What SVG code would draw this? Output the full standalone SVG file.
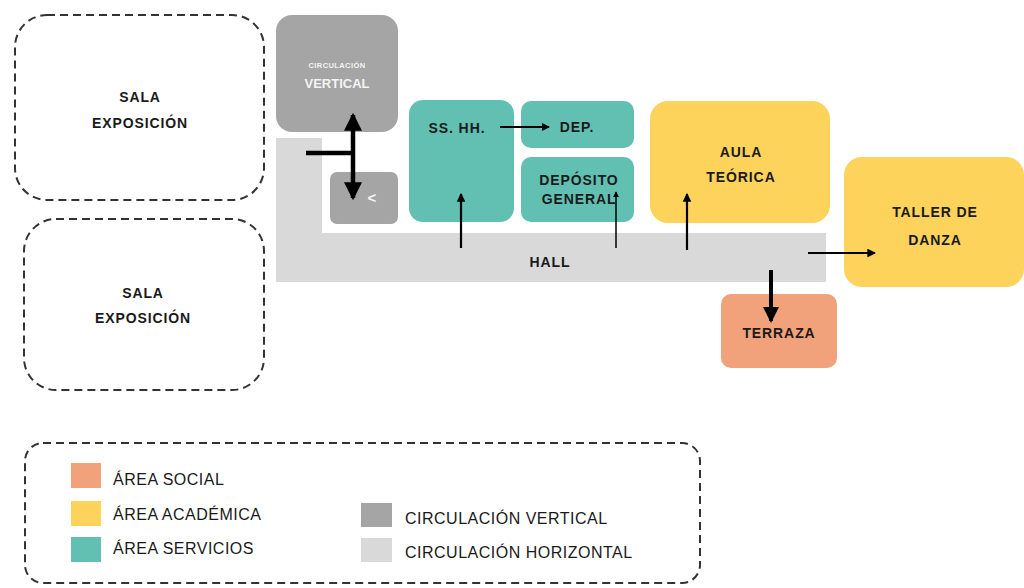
<svg xmlns="http://www.w3.org/2000/svg" width="1024" height="588" viewBox="0 0 1024 588">
<style>
.lbl{font-family:"Liberation Sans",Arial,sans-serif;font-weight:bold;font-size:14px;letter-spacing:0.9px;fill:#1a1a1a;text-anchor:middle}
.wlbl{font-family:"Liberation Sans",Arial,sans-serif;font-weight:bold;fill:#f4f4f4;text-anchor:middle}
.leg{font-family:"Liberation Sans",Arial,sans-serif;font-size:16px;letter-spacing:0.5px;fill:#1a1a1a}
.dash{fill:#ffffff;stroke:#333333;stroke-width:2;stroke-dasharray:8,5}
.teal{fill:#62c0b3}
.yel{fill:#fdd35c}
.sal{fill:#f2a27a}
.dg{fill:#a5a5a5}
.lg{fill:#d9d9d9}
.con{stroke:#000000;fill:none}
</style>
<defs>
<marker id="ah" markerWidth="4" markerHeight="4" refX="3.5" refY="2" orient="auto" markerUnits="strokeWidth"><path d="M0,0 L4,2 L0,4 z" fill="#000"/></marker>
</defs>
<rect width="1024" height="588" fill="#ffffff"/>

<g id="sala1"><rect class="dash" x="15" y="15" width="249" height="185" rx="32"/><text class="lbl" x="140" y="102">SALA</text><text class="lbl" x="140" y="128">EXPOSICIÓN</text></g>
<g id="sala2"><rect class="dash" x="24" y="219" width="240" height="171" rx="32"/><text class="lbl" x="143" y="298">SALA</text><text class="lbl" x="143" y="323">EXPOSICIÓN</text></g>

<g id="hall"><path class="lg" d="M276,138 H322 V233 H826 V282 H276 Z"/><text class="lbl" x="550" y="267">HALL</text></g>

<g id="circ-vertical"><rect class="dg" x="276" y="15" width="122" height="117" rx="16"/><text class="wlbl" x="337" y="68" font-size="7.5" letter-spacing="0.4">CIRCULACIÓN</text><text class="wlbl" x="337" y="88" font-size="13">VERTICAL</text></g>
<g id="circ-small"><rect class="dg" x="330" y="172" width="68" height="52" rx="7"/><text class="wlbl" x="372" y="203" font-size="15">&lt;</text></g>

<g id="sshh"><rect class="teal" x="409" y="100" width="105" height="122" rx="14"/><text class="lbl" x="457" y="133">SS. HH.</text></g>
<g id="dep"><rect class="teal" x="521" y="101" width="113" height="47" rx="10"/><text class="lbl" x="577" y="132">DEP.</text></g>
<g id="deposito"><rect class="teal" x="521" y="157" width="113" height="65" rx="10"/><text class="lbl" x="579" y="185">DEPÓSITO</text><text class="lbl" x="579" y="204">GENERAL</text></g>

<g id="aula"><rect class="yel" x="650" y="101" width="180" height="122" rx="18"/><text class="lbl" x="741" y="157">AULA</text><text class="lbl" x="741" y="182">TEÓRICA</text></g>
<g id="taller"><rect class="yel" x="844" y="157" width="180" height="130" rx="18"/><text class="lbl" x="935" y="217">TALLER DE</text><text class="lbl" x="935" y="245">DANZA</text></g>
<g id="terraza"><rect class="sal" x="721" y="294" width="116" height="74" rx="10"/><text class="lbl" x="779" y="338">TERRAZA</text></g>

<g id="connectors">
<line class="con" x1="353" y1="150" x2="353" y2="115" stroke-width="4.5" marker-end="url(#ah)"/>
<line class="con" x1="353" y1="150" x2="353" y2="198" stroke-width="4.5" marker-end="url(#ah)"/>
<line class="con" x1="306" y1="153" x2="355" y2="153" stroke-width="4.5"/>
<line class="con" x1="500" y1="127" x2="549" y2="127" stroke-width="2" marker-end="url(#ah)"/>
<line class="con" x1="461" y1="248" x2="461" y2="194" stroke-width="2.2" marker-end="url(#ah)"/>
<line class="con" x1="616" y1="248" x2="616" y2="192" stroke-width="1.5" marker-end="url(#ah)"/>
<line class="con" x1="687" y1="250" x2="687" y2="194" stroke-width="2.2" marker-end="url(#ah)"/>
<line class="con" x1="808" y1="253" x2="875" y2="253" stroke-width="2.2" marker-end="url(#ah)"/>
<line class="con" x1="771" y1="270" x2="771" y2="321" stroke-width="4" marker-end="url(#ah)"/>
</g>

<g id="legend">
<rect class="dash" x="25" y="443" width="675" height="140" rx="18" stroke-width="1.5" stroke="#888888" stroke-dasharray="7,6"/>
<rect class="sal" x="71" y="463" width="30" height="25"/><text class="leg" x="113" y="485">ÁREA SOCIAL</text>
<rect class="yel" x="71" y="501" width="30" height="25"/><text class="leg" x="113" y="520">ÁREA ACADÉMICA</text>
<rect class="teal" x="71" y="537" width="30" height="25"/><text class="leg" x="113" y="554">ÁREA SERVICIOS</text>
<rect class="dg" x="361" y="503" width="31" height="24"/><text class="leg" x="405" y="524">CIRCULACIÓN VERTICAL</text>
<rect class="lg" x="361" y="538" width="31" height="24"/><text class="leg" x="405" y="558">CIRCULACIÓN HORIZONTAL</text>
</g>
</svg>
